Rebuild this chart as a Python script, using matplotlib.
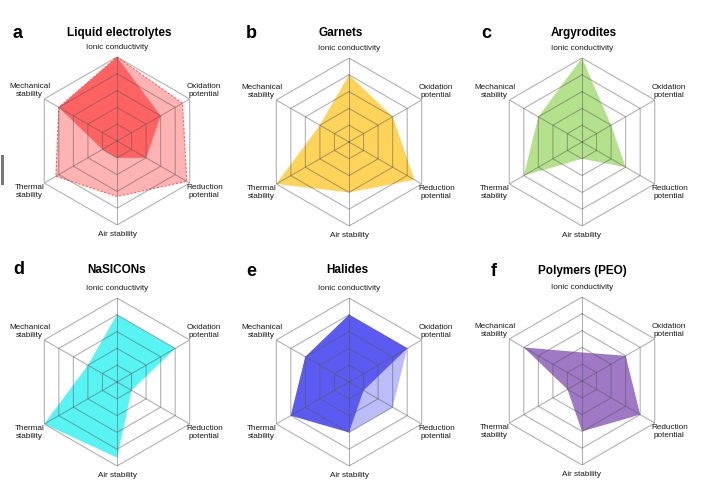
import numpy as np
import matplotlib
matplotlib.use("Agg")
import matplotlib.pyplot as plt
from matplotlib.patches import Rectangle

plt.rcParams['font.family'] = ['Liberation Sans', 'DejaVu Sans']

# axes, clockwise from the top
axis_labels = ["Ionic conductivity", "Oxidation\npotential", "Reduction\npotential",
               "Air stability", "Thermal\nstability", "Mechanical\nstability"]

letters = ["a", "b", "c", "d", "e", "f"]
titles = ["Liquid electrolytes", "Garnets", "Argyrodites",
          "NaSICONs", "Halides", "Polymers (PEO)"]

# scores (0-5) per axis
liquid_dark = [5, 3, 2, 1, 1, 4]
liquid_light = [5, 4.5, 4.8, 3.3, 4.2, 4]
garnets = [4, 3, 4.5, 3, 5, 2]
argyrodites = [5, 2, 3, 1, 4, 3]
nasicons = [4, 4, 1, 4.5, 5, 2]
halides_dark = [4, 4, 1, 3, 4, 3]
halides_light = [4, 4, 3, 3, 4, 3]
polymers = [1.7, 3, 4, 3, 1, 4]

# (light series, dark series, light colour, dark colour)
panels = [
    (liquid_light, liquid_dark, "#ffb3b3", "#ff6262"),
    (None, garnets, None, "#fed35a"),
    (None, argyrodites, None, "#b4e18b"),
    (None, nasicons, None, "#58f4f4"),
    (halides_light, halides_dark, "#bcbcf8", "#5b5bf2"),
    (None, polymers, None, "#9f78c6"),
]

# panel centres (pixels from top-left) and radius
centres = [(117, 141), (349, 142), (582, 142), (117, 382), (349, 382), (582, 381)]
R = 84
W, H = 717, 500

theta = np.linspace(0, 2 * np.pi, 6, endpoint=False)
theta_c = np.append(theta, theta[0])

fig = plt.figure(figsize=(W / 100, H / 100), dpi=100)

for i, (light, dark, lc, dc) in enumerate(panels):
    cx, cy = centres[i]
    ax = fig.add_axes([(cx - R) / W, 1 - (cy + R) / H, 2 * R / W, 2 * R / H],
                      projection="polar")
    ax.set_theta_zero_location("N")
    ax.set_theta_direction(-1)
    ax.set_ylim(0, 5)
    ax.set_xticks([])
    ax.set_yticks([])
    ax.grid(False)
    ax.spines["polar"].set_visible(False)
    ax.patch.set_alpha(0)

    if light is not None:
        vals = np.append(light, light[0])
        ax.fill(theta_c, vals, color=lc, lw=0, zorder=1)
        if i == 0:
            ax.plot(theta_c, vals, color=dc, lw=0.8, ls=(0, (2, 1.5)), zorder=2)
    vals = np.append(dark, dark[0])
    ax.fill(theta_c, vals, color=dc, lw=0, zorder=2)

    # hexagonal grid
    for lev in range(1, 6):
        ax.plot(theta_c, [lev] * 7, color="#555555", alpha=0.45, lw=0.8, zorder=3)
    for t in theta:
        ax.plot([t, t], [0, 5], color="#555555", alpha=0.45, lw=0.8, zorder=3)

    # axis labels
    for t, lab in zip(theta, axis_labels):
        if lab.startswith("Ionic"):
            ax.text(t, 5.35, lab, ha="center", va="bottom", fontsize=5.9, color="#1a1a1a")
        elif lab.startswith("Air"):
            ax.text(t, 5.35, lab, ha="center", va="top", fontsize=5.9, color="#1a1a1a")
        else:
            ax.text(t, 6.0, lab, ha="center", va="center", fontsize=5.9,
                    linespacing=1.15, color="#1a1a1a")

# panel letters and titles
letter_pos = [(13, 33), (246, 33), (481, 33), (13, 270), (246, 271), (491, 271)]
title_pos = [(119, 33), (341, 33), (584, 33), (117, 270), (347, 270), (582, 271)]
for k in range(6):
    lx, ly = letter_pos[k]
    fig.text(lx / W, 1 - ly / H, letters[k], fontsize=13, fontweight="bold",
             ha="left", va="center")
    tx, ty = title_pos[k]
    fig.text(tx / W, 1 - ty / H, titles[k], fontsize=8.5, fontweight="bold",
             ha="center", va="center")

# small grey mark at the left edge of the source image
fig.patches.append(Rectangle((1 / W, 1 - 185 / H), 3 / W, 30 / H,
                             transform=fig.transFigure, color="#777777", lw=0))

fig.savefig("out.png", dpi=100)
